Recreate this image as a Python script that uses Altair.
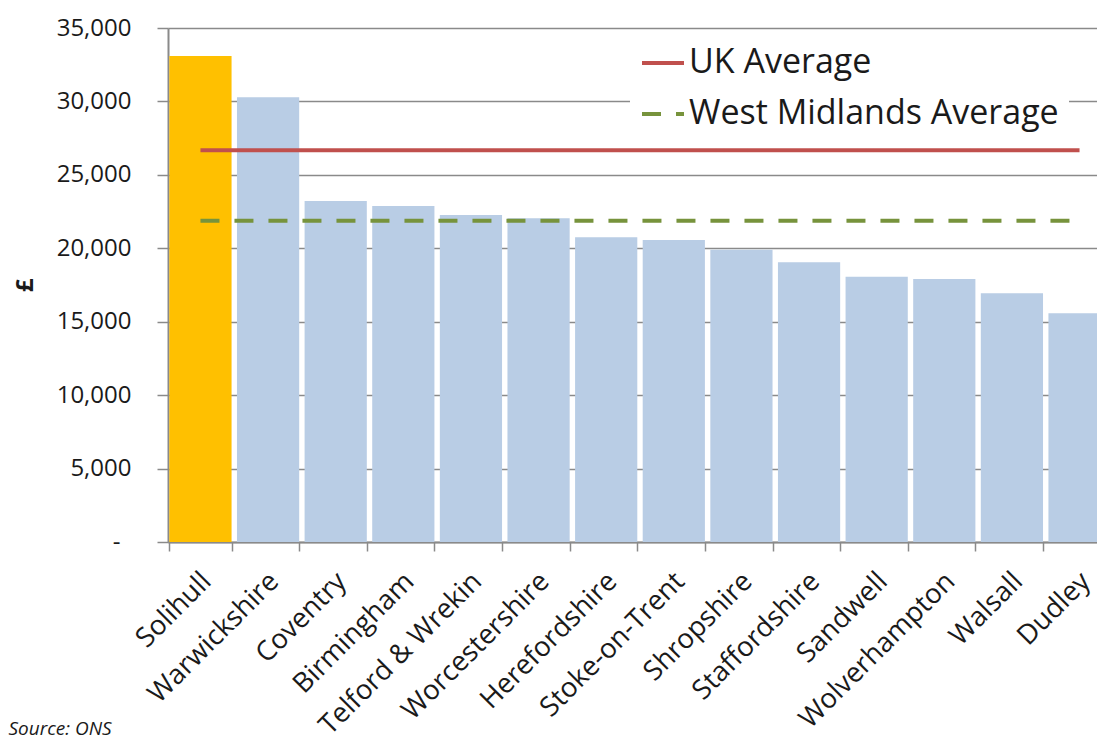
import altair as alt
import pandas as pd

districts = ["Solihull", "Warwickshire", "Coventry", "Birmingham", "Telford & Wrekin",
             "Worcestershire", "Herefordshire", "Stoke-on-Trent", "Shropshire",
             "Staffordshire", "Sandwell", "Wolverhampton", "Walsall", "Dudley"]
values = [33100, 30280, 23220, 22880, 22270, 22040, 20750, 20570, 19900,
          19050, 18070, 17910, 16940, 15570]

series_names = ["UK Average", "West Midlands Average"]
series_values = [26670, 21880]
series_colors = ["#C0504D", "#77933C"]
y_ticks = [0, 5000, 10000, 15000, 20000, 25000, 30000, 35000]

FONT = "Open Sans"
TEXT = "#1a1a1a"
GRID = "#8a8a8a"

bars_df = pd.DataFrame({"district": districts, "value": values})
lines_df = pd.DataFrame(
    [{"district": d, "series": s, "avg": v}
     for s, v in zip(series_names, series_values) for d in districts]
)

x_enc = alt.X(
    "district:N",
    sort=districts,
    scale=alt.Scale(paddingInner=0.08, paddingOuter=0.02),
    axis=alt.Axis(
        title="Source: ONS",
        titleX=-160, titleY=192,
        titleAlign="left", titleBaseline="alphabetic",
        titleFont=FONT, titleFontSize=19, titleFontStyle="italic",
        titleFontWeight="normal", titleColor=TEXT,
        labelAngle=-45, labelAlign="right", labelBaseline="middle",
        labelFont=FONT, labelFontSize=27.5, labelColor=TEXT,
        labelOffset=6, labelPadding=26, labelLimit=400,
        tickBand="extent", tickSize=9, tickColor=GRID, tickWidth=1.5,
        domainColor=GRID, domainWidth=2,
    ),
)

legend_opts = dict(
    title=None, orient="none", legendX=462, legendY=2,
    fillColor="white", padding=10,
    symbolType="stroke", symbolSize=1764, symbolStrokeWidth=4,
    labelFont=FONT, labelFontSize=34, labelColor=TEXT, labelLimit=600,
    labelOffset=3, rowPadding=11,
)

bars = alt.Chart(bars_df).mark_bar().encode(
    x=x_enc,
    y=alt.Y(
        "value:Q",
        scale=alt.Scale(domain=[0, 35000], nice=False),
        axis=alt.Axis(
            values=y_ticks,
            labelExpr="datum.value == 0 ? '-' : format(datum.value, ',')",
            labelFont=FONT, labelFontSize=24, labelColor=TEXT,
            labelPadding={"condition": {"test": "datum.value === 0", "value": 37}, "value": 26},
            tickSize=11, tickColor=GRID, tickWidth=1.5,
            domainColor=GRID, domainWidth=2,
            grid=True, gridColor=GRID, gridWidth=1.5,
            title="£", titleX=-143, titleY=257, titleAngle=-90,
            titleAlign="center", titleBaseline="middle",
            titleFont=FONT, titleFontSize=24, titleFontWeight="bold", titleColor=TEXT,
        ),
    ),
    fill=alt.condition(alt.datum.district == "Solihull", alt.value("#FFC000"), alt.value("#B9CDE5")),
)

lines = alt.Chart(lines_df).mark_line(strokeWidth=4).encode(
    x=alt.X("district:N", sort=districts),
    y=alt.Y("avg:Q"),
    color=alt.Color(
        "series:N",
        scale=alt.Scale(domain=series_names, range=series_colors),
        legend=alt.Legend(**legend_opts),
    ),
    strokeDash=alt.StrokeDash(
        "series:N",
        scale=alt.Scale(domain=series_names, range=[[1, 0], [19, 15]]),
        legend=alt.Legend(**legend_opts),
    ),
)

chart = alt.layer(bars, lines).properties(
    width=944, height=514,
    autosize=alt.AutoSizeParams(type="none"),
    padding={"left": 160, "top": 20, "right": -15, "bottom": 200},
    background="white",
).configure_view(stroke=None)

chart.save("out.html", embed_options={"renderer": "svg", "actions": False})
